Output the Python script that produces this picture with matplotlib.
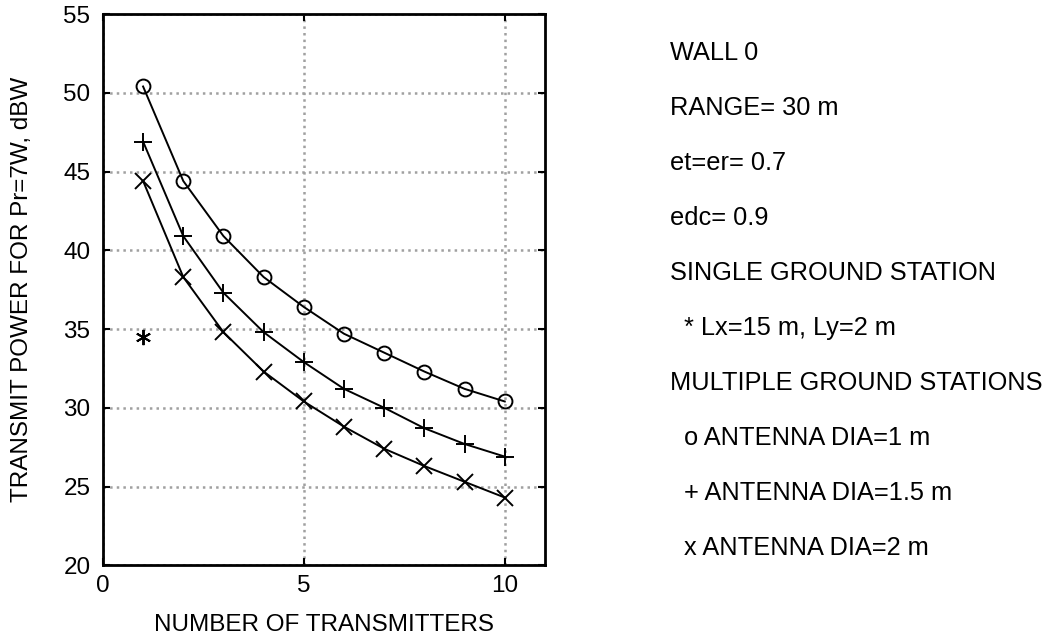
import numpy as np
import matplotlib
matplotlib.use('Agg')
import matplotlib.pyplot as plt

plt.rcParams['font.family'] = ['Liberation Sans', 'DejaVu Sans']

# number of transmitters
n_tx = [1, 2, 3, 4, 5, 6, 7, 8, 9, 10]
# transmit power, dBW, for each antenna diameter
p_dia1 = [50.4, 44.4, 40.9, 38.3, 36.4, 34.7, 33.5, 32.3, 31.2, 30.4]
p_dia15 = [46.9, 40.9, 37.3, 34.8, 32.9, 31.2, 30.0, 28.7, 27.7, 26.9]
p_dia2 = [44.4, 38.3, 34.8, 32.3, 30.4, 28.8, 27.4, 26.3, 25.3, 24.3]
# single ground station
single_x = [1]
single_p = [34.5]

notes = ['WALL 0', 'RANGE= 30 m', 'et=er= 0.7', 'edc= 0.9',
         'SINGLE GROUND STATION', '  * Lx=15 m, Ly=2 m',
         'MULTIPLE GROUND STATIONS', '  o ANTENNA DIA=1 m',
         '  + ANTENNA DIA=1.5 m', '  x ANTENNA DIA=2 m']

fig = plt.figure(figsize=(10.5, 6.38), dpi=100)
ax = fig.add_axes([0.098, 0.114, 0.421, 0.864])

ax.plot(n_tx, p_dia1, 'k-', marker='o', ms=10, mfc='none', mew=1.4, lw=1.4)
ax.plot(n_tx, p_dia15, 'k-', marker='+', ms=13, mew=1.4, lw=1.4)
ax.plot(n_tx, p_dia2, 'k-', marker='x', ms=12, mew=1.4, lw=1.4)
ax.plot(single_x, single_p, 'k', ls='none', marker=(6, 2, 0), ms=11, mew=1.4)

ax.set_xlim(0, 11)
ax.set_ylim(20, 55)
ax.set_xticks([0, 5, 10])
ax.set_yticks(np.arange(20, 56, 5))
ax.grid(True, color='#a0a0a0', ls=':', lw=1.8)
ax.tick_params(direction='in', top=True, right=True, length=5, width=1.5,
               labelsize=17.5)
ax.tick_params(axis='y', pad=9)
ax.tick_params(axis='x', pad=7)
for s in ax.spines.values():
    s.set_linewidth(2)

ax.set_xlabel('NUMBER OF TRANSMITTERS', fontsize=17.5)
ax.set_ylabel('TRANSMIT POWER FOR Pr=7W, dBW', fontsize=17.5)
ax.xaxis.set_label_coords(0.5, -0.088)
ax.yaxis.set_label_coords(-0.157, 0.5)

for i, t in enumerate(notes):
    fig.text(0.638, 1 - (53 + 55 * i) / 638, t, fontsize=18.3, va='center', ha='left')

fig.savefig('out.png', dpi=100)
